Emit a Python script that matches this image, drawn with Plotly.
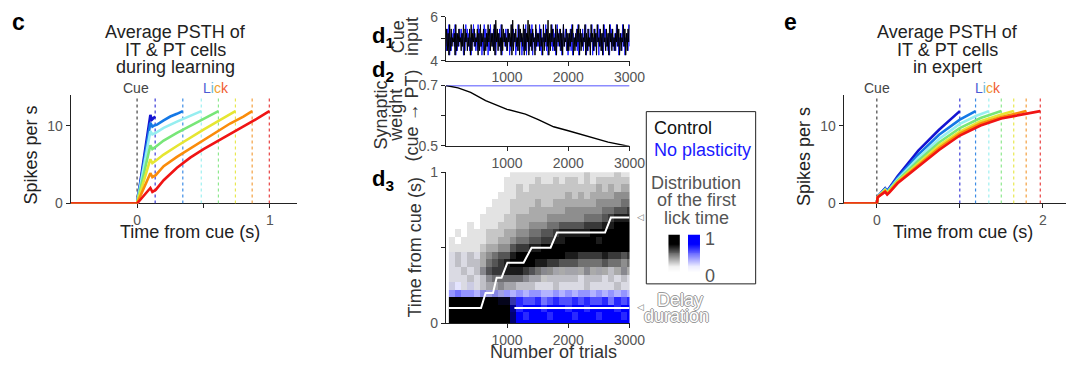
import numpy as np
import plotly.graph_objects as go

W, H = 1082, 371
def fx(p): return p / W
def fy(p): return 1 - p / H

FONT = "Liberation Sans, Arial, Helvetica, sans-serif"
AX = "#222222"
TICK = "#555555"

# ---------------- data ----------------
curve_colors = ["#1414d2", "#1478e6", "#96eef0", "#78e678", "#e6e632", "#fa8c0a", "#f01414"]
lick_colors = ["#3c3cd8", "#3c8ce6", "#9ef0f0", "#8ee88e", "#e8e850", "#f4a040", "#e84040"]

# panel c : during learning
c_lick_times = [0.136, 0.344, 0.483, 0.612, 0.74, 0.866, 0.995]
c_t_1 = [-0.5, 0, 0.1, 0.112, 0.136]
c_r_1 = [0, 0, 11.4, 10.8, 11.2]
c_t_2 = [-0.5, 0, 0.1, 0.115, 0.13, 0.15, 0.2, 0.25, 0.3, 0.344]
c_r_2 = [0, 0, 10.4, 9.9, 10.05, 10.15, 10.7, 11.2, 11.55, 11.9]
c_t_3 = [-0.5, 0, 0.1, 0.115, 0.14, 0.2, 0.3, 0.4, 0.483]
c_r_3 = [0, 0, 9.3, 8.9, 9.1, 9.75, 10.55, 11.25, 11.9]
c_t_4 = [-0.5, 0, 0.1, 0.115, 0.14, 0.2, 0.3, 0.4, 0.5, 0.612]
c_r_4 = [0, 0, 7.5, 7.0, 7.3, 8.1, 9.1, 10.0, 10.9, 11.9]
c_t_5 = [-0.5, 0, 0.1, 0.115, 0.14, 0.2, 0.3, 0.4, 0.5, 0.6, 0.74]
c_r_5 = [0, 0, 5.7, 5.2, 5.5, 6.3, 7.4, 8.5, 9.5, 10.5, 11.9]
c_t_6 = [-0.5, 0, 0.1, 0.115, 0.14, 0.2, 0.3, 0.4, 0.5, 0.6, 0.7, 0.8, 0.866]
c_r_6 = [0, 0, 3.9, 3.4, 3.65, 4.8, 6.0, 7.1, 8.2, 9.3, 10.3, 11.2, 11.9]
c_t_7 = [-0.5, 0, 0.1, 0.115, 0.14, 0.2, 0.3, 0.4, 0.5, 0.6, 0.7, 0.8, 0.9, 0.995]
c_r_7 = [0, 0, 2.0, 1.5, 1.75, 3.0, 4.6, 5.9, 7.0, 7.95, 8.9, 9.9, 10.9, 11.9]

# panel e : expert
e_lick_times = [1.0, 1.19, 1.35, 1.5, 1.65, 1.8, 1.97]
e_t_1 = [-0.4, 0, 0.01, 0.1, 0.125, 0.15, 0.25, 0.5, 0.75, 1.0]
e_r_1 = [0, 0, 0.9, 1.95, 1.6, 2.0, 3.5, 6.8, 9.5, 11.9]
e_t_2 = [-0.4, 0, 0.01, 0.1, 0.125, 0.15, 0.25, 0.5, 0.75, 1.0, 1.19]
e_r_2 = [0, 0, 0.9, 1.9, 1.5, 1.9, 3.3, 6.3, 8.85, 10.8, 11.9]
e_t_3 = [-0.4, 0, 0.01, 0.1, 0.125, 0.15, 0.25, 0.5, 0.75, 1.0, 1.2, 1.35]
e_r_3 = [0, 0, 0.85, 1.8, 1.45, 1.8, 3.1, 5.9, 8.3, 10.25, 11.3, 11.9]
e_t_4 = [-0.4, 0, 0.01, 0.1, 0.125, 0.15, 0.25, 0.5, 0.75, 1.0, 1.25, 1.5]
e_r_4 = [0, 0, 0.85, 1.75, 1.4, 1.7, 2.95, 5.5, 7.85, 9.7, 11.0, 11.9]
e_t_5 = [-0.4, 0, 0.01, 0.1, 0.125, 0.15, 0.25, 0.5, 0.75, 1.0, 1.25, 1.5, 1.65]
e_r_5 = [0, 0, 0.8, 1.7, 1.3, 1.6, 2.8, 5.15, 7.45, 9.25, 10.6, 11.45, 11.9]
e_t_6 = [-0.4, 0, 0.01, 0.1, 0.125, 0.15, 0.25, 0.5, 0.75, 1.0, 1.25, 1.5, 1.8]
e_r_6 = [0, 0, 0.8, 1.6, 1.25, 1.5, 2.7, 4.95, 7.15, 9.0, 10.3, 11.15, 11.9]
e_t_7 = [-0.4, 0, 0.01, 0.1, 0.125, 0.15, 0.25, 0.5, 0.75, 1.0, 1.25, 1.5, 1.75, 1.97]
e_r_7 = [0, 0, 0.8, 1.5, 1.15, 1.4, 2.6, 4.75, 6.9, 8.75, 10.05, 10.95, 11.5, 11.9]

# panel d1 : cue input (digit d -> 4.05 + 0.2*d)
cue_ctrl_digits = ("37261827354618263745" "26381746253718264735" "47162836471526384726"
                   "36281947263518274635" "27463819264735281746" "38172649183627451836"
                   "46273518264739162847" "35281746372618354726" "26374815263748172635"
                   "48162735184627361845" "37261845273618462735" "26483716254837162748")
cue_noplast_digits = ("62738152647381625374" "73615284736251748362" "52847361528473615284"
                      "63728154637281546372" "74615283746152837461" "52738164527381645273"
                      "63827154638271546382" "72614835726148357261" "53728164537281645372"
                      "64815273648152736481" "73526184735261847352" "62837154628371546283")

# panel d2 : synaptic weight
w_trials = [0, 200, 405, 650, 1000, 1300, 1510, 1760, 2000, 2270, 2500, 2650, 3000]
w_ctrl = [0.7, 0.692, 0.677, 0.65, 0.621, 0.605, 0.587, 0.563, 0.55, 0.534, 0.522, 0.512, 0.498]
w_np_trials = [0, 3000]
w_noplast = [0.7, 0.7]

# panel d3 : first-lick-time distributions, rows t = 0, 0.05, ... 1.0 ; cols trials 100..3000
hm_trials = list(range(100, 3001, 100))
hm_times = [round(0.05 * i, 2) for i in range(21)]
ctrl_rows = [
    "999999999950000000000000000000",
    "999999999950000000000000000000",
    "999999999940000000000000000000",
    "999999998830000000000000000000",
    "000001111000000000000000000000",
    "101112334332221112111121111211",
    "111212455555433222222122212121",
    "112124677888765443333343332343",
    "121223567899998877666555565545",
    "121213456689999999988777787767",
    "111112334467788999999999999999",
    "101111223345566778899999899999",
    "010111222334455667888889999999",
    "000101112223344455666677788999",
    "000001111223333344444455567888",
    "000000111122233333344444455667",
    "000000011122223223333333444455",
    "000000001112222222232323333444",
    "000000000112122222222222323233",
    "000000000111112112122121222222",
    "000000000011111111111121111211",
]
noplast_rows = [
    "999999999999999999999999999999",
    "999999999999899989998999899989",
    "999999999998999899989989999899",
    "898889898878778678778787786878",
    "565545454545455445454554545454",
    "221211111111111111111111111111",
    "111111111111111011111111111111",
    "111111111101010101011010101010",
    "111110000000000000000000000000",
    "111110000000000000000000000000",
] + ["000000000000000000000000000000"] * 11

ctrl_line_trials = [50, 575, 650, 770, 830, 910, 1005, 1270, 1400, 1710, 1815, 2600, 2695, 3000]
ctrl_line_delay = [0.1, 0.1, 0.2, 0.2, 0.3, 0.3, 0.4, 0.4, 0.5, 0.5, 0.6, 0.6, 0.7, 0.7]
np_line_trials = [1120, 3000]
np_line_delay = [0.1, 0.1]

# ---------------- figure ----------------
fig = go.Figure()

def add_psth(ts, rs, licks, xa, ya):
    for i in range(7):
        fig.add_trace(go.Scatter(x=[licks[i], licks[i]], y=[0, 13.7], mode="lines",
                                 line=dict(color=lick_colors[i], width=1.2, dash="dot"),
                                 xaxis=xa, yaxis=ya, hoverinfo="skip", cliponaxis=False))
    fig.add_trace(go.Scatter(x=[0, 0], y=[0, 13.7], mode="lines",
                             line=dict(color="#444444", width=1.2, dash="dot"),
                             xaxis=xa, yaxis=ya, hoverinfo="skip", cliponaxis=False))
    for i in range(7):
        fig.add_trace(go.Scatter(x=ts[i], y=rs[i], mode="lines",
                                 line=dict(color=curve_colors[i], width=2.6),
                                 xaxis=xa, yaxis=ya, cliponaxis=False, hoverinfo="skip"))

add_psth([c_t_1, c_t_2, c_t_3, c_t_4, c_t_5, c_t_6, c_t_7],
         [c_r_1, c_r_2, c_r_3, c_r_4, c_r_5, c_r_6, c_r_7], c_lick_times, "x", "y")
add_psth([e_t_1, e_t_2, e_t_3, e_t_4, e_t_5, e_t_6, e_t_7],
         [e_r_1, e_r_2, e_r_3, e_r_4, e_r_5, e_r_6, e_r_7], e_lick_times, "x5", "y5")

# d1
cue_np = [4.05 + 0.2 * int(ch) for ch in cue_noplast_digits]
cue_ct = [4.05 + 0.2 * int(ch) for ch in cue_ctrl_digits]
fig.add_trace(go.Scatter(x=np.linspace(0, 3000, len(cue_np)), y=cue_np, mode="lines",
                         line=dict(color="#1a1aff", width=1), xaxis="x2", yaxis="y2", hoverinfo="skip"))
fig.add_trace(go.Scatter(x=np.linspace(0, 3000, len(cue_ct)), y=cue_ct, mode="lines",
                         line=dict(color="#000000", width=1), xaxis="x2", yaxis="y2", hoverinfo="skip"))
# d2
fig.add_trace(go.Scatter(x=w_np_trials, y=w_noplast, mode="lines", line=dict(color="#1a1aff", width=1.4),
                         xaxis="x3", yaxis="y3", cliponaxis=False, hoverinfo="skip"))
fig.add_trace(go.Scatter(x=w_trials, y=w_ctrl, mode="lines", line=dict(color="#000000", width=1.4),
                         xaxis="x3", yaxis="y3", cliponaxis=False, hoverinfo="skip"))

# d3 heat map (multiplicative blend of gray and blue maps)
img = []
for rc, rb in zip(ctrl_rows, noplast_rows):
    row = []
    for chc, chb in zip(rc, rb):
        c = int(chc) / 9.0
        b = (int(chb) / 9.0) ** 1.5
        v = int(round(255 * (1 - c) * (1 - b)))
        row.append([v, v, int(round(255 * (1 - c)))])
    img.append(row)
fig.add_trace(go.Image(z=img, x0=hm_trials[0], dx=100, y0=hm_times[0], dy=0.05,
                       xaxis="x4", yaxis="y4", hoverinfo="skip"))
fig.add_trace(go.Scatter(x=np_line_trials, y=np_line_delay, mode="lines", line=dict(color="white", width=2),
                         xaxis="x4", yaxis="y4", hoverinfo="skip"))
fig.add_trace(go.Scatter(x=ctrl_line_trials, y=ctrl_line_delay, mode="lines", line=dict(color="white", width=2),
                         xaxis="x4", yaxis="y4", hoverinfo="skip"))

# legend colour bars
levels = [[i / 39.0] for i in range(40)]
fig.add_trace(go.Heatmap(z=levels, x=[0], y=list(range(40)), showscale=False, hoverinfo="skip",
                         colorscale=[[0, "#ffffff"], [0.15, "#f2f2f2"], [0.55, "#555555"], [0.75, "#000000"], [1, "#000000"]],
                         xaxis="x6", yaxis="y6"))
fig.add_trace(go.Heatmap(z=levels, x=[0], y=list(range(40)), showscale=False, hoverinfo="skip",
                         colorscale=[[0, "#ffffff"], [0.15, "#eeeeff"], [0.55, "#5555ff"], [0.75, "#0000ff"], [1, "#0000ff"]],
                         xaxis="x7", yaxis="y7"))

def axis(**kw):
    d = dict(showline=True, linecolor=AX, linewidth=1, ticks="outside", ticklen=4, tickwidth=1,
             tickcolor=AX, showgrid=False, zeroline=False, fixedrange=True,
             tickfont=dict(family=FONT, size=14, color=TICK))
    d.update(kw)
    return d

hidden = dict(visible=False, fixedrange=True)
dx0, dx1 = fx(452.5), fx(639)
fig.update_layout(
    width=W, height=H, autosize=False, margin=dict(l=0, r=0, t=0, b=0),
    paper_bgcolor="white", plot_bgcolor="white", showlegend=False,
    xaxis=axis(domain=[fx(71.7), fx(301)], range=[-0.5, 1.2], tickvals=[0, 0.5, 1], ticktext=["0", "", "1"],
               anchor="y", layer="below traces"),
    yaxis=axis(domain=[fy(204.3), fy(90.7)], range=[0, 14], tickvals=[0, 10], anchor="x"),
    xaxis2=axis(domain=[dx0, dx1], range=[0, 3000], tickvals=[1000, 2000, 3000], anchor="y2"),
    yaxis2=axis(domain=[fy(55), fy(9.3)], range=[4, 6], tickvals=[4, 5, 6], ticktext=["4", "", "6"], anchor="x2"),
    xaxis3=axis(domain=[dx0, dx1], range=[0, 3000], tickvals=[1000, 2000, 3000], anchor="y3"),
    yaxis3=axis(domain=[fy(144), fy(81)], range=[0.5, 0.7], tickvals=[0.5, 0.6, 0.7],
                ticktext=["0.5", "", "0.7"], anchor="x3"),
    xaxis4=axis(domain=[dx0, dx1], range=[0, 3000], tickvals=[1000, 2000, 3000], anchor="y4"),
    yaxis4=axis(domain=[fy(329.3), fy(171.7)], range=[0, 1], tickvals=[0, 0.5, 1], ticktext=["0", "", "1"],
                anchor="x4", scaleanchor=False, autorange=False),
    xaxis5=axis(domain=[fx(856.3), 1.0], range=[-0.4, 2.28], tickvals=[0, 1, 2], ticktext=["0", "", "2"],
                anchor="y5", layer="below traces"),
    yaxis5=axis(domain=[fy(204.3), fy(90.7)], range=[0, 14], tickvals=[0, 10], anchor="x5"),
    xaxis6=dict(hidden, domain=[fx(678.3), fx(690)], range=[-0.5, 0.5], anchor="y6"),
    yaxis6=dict(hidden, domain=[fy(276.7), fy(236.7)], range=[-0.5, 39.5], anchor="x6"),
    xaxis7=dict(hidden, domain=[fx(698.3), fx(710.7)], range=[-0.5, 0.5], anchor="y7"),
    yaxis7=dict(hidden, domain=[fy(276.7), fy(236.7)], range=[-0.5, 39.5], anchor="x7"),
)

anns = []
def ann(text, x, y, size=18, color="#222222", xanchor="center", yanchor="middle", angle=0, font_extra=None):
    f = dict(family=FONT, size=size, color=color)
    if font_extra:
        f.update(font_extra)
    anns.append(dict(text=text, x=fx(x), y=fy(y), xref="paper", yref="paper", showarrow=False,
                     xanchor=xanchor, yanchor=yanchor, textangle=angle, font=f))

lick_html = ('<span style="color:#4b5bd4">L</span><span style="color:#6fb6d8">i</span>'
             '<span style="color:#f0a030">c</span><span style="color:#f05a30">k</span>')

# panel c
ann("<b>c</b>", 19, 15, size=23, color="#000")
for txt, yy in [("Average PSTH of", 25), ("IT &amp; PT cells", 43.5), ("during learning", 62)]:
    ann(txt, 177.7, yy)
ann("Cue", 138.3, 83.5, size=14, color="#444")
ann(lick_html, 218.8, 83.5, size=14)
ann("Time from cue (s)", 192.8, 234)
ann("Spikes per s", 31.7, 154, angle=-90)

# panel e
ann("<b>e</b>", 802, 15, size=23, color="#000")
for txt, yy in [("Average PSTH of", 25), ("IT &amp; PT cells", 43.5), ("in expert", 62)]:
    ann(txt, 962, yy)
ann("Cue", 890.5, 83.5, size=14, color="#444")
ann(lick_html, 1002.8, 83.5, size=14)
ann("Time from cue (s)", 977.5, 234)
ann("Spikes per s", 816.7, 155, angle=-90)

# panel d
ann("<b>d<sub>1</sub></b>", 376, 30, size=22, color="#000", xanchor="left")
ann("<b>d<sub>2</sub></b>", 376, 66, size=22, color="#000", xanchor="left")
ann("<b>d<sub>3</sub></b>", 376, 180, size=22, color="#000", xanchor="left")
ann("Cue", 403.5, 30, angle=-90, color="#333")
ann("input", 417.5, 30, angle=-90, color="#333")
ann("Synaptic", 387, 112, angle=-90, color="#333")
ann("weight", 402.5, 112, angle=-90, color="#333")
ann("(cue \u2192 PT)", 418.5, 112, angle=-90, color="#333")
ann("Time from cue (s)", 421, 250.5, angle=-90, color="#333")
ann("Number of trials", 561.7, 359.5, color="#333")
ann("\u25C1", 650, 218.3, size=9, color="#777")
ann("\u25C1", 650, 312, size=9, color="#777")

# legend box texts
ann("Control", 661.7, 125, color="#111", xanchor="left")
ann("No plasticity", 661.7, 148.3, color="#1a1aff", xanchor="left")
ann("Distribution", 706.7, 182.7, color="#555")
ann("of the first", 706.7, 200.7, color="#555")
ann("lick time", 706.7, 219, color="#555")
ann("1", 714, 241.7, size=18, color="#555", xanchor="left")
ann("0", 714, 280, size=18, color="#555", xanchor="left")
outline = {"shadow": "1px 0 0 #9a9a9a, -1px 0 0 #9a9a9a, 0 1px 0 #9a9a9a, 0 -1px 0 #9a9a9a"}
ann("Delay", 690, 305, color="#ffffff", font_extra=outline)
ann("duration", 686.3, 321.7, color="#ffffff", font_extra=outline)

fig.update_layout(annotations=anns,
                  shapes=[dict(type="rect", xref="paper", yref="paper", x0=fx(656), x1=fx(767),
                               y0=fy(288.3), y1=fy(108.3), line=dict(color="#222", width=1),
                               fillcolor="rgba(0,0,0,0)")])

fig.write_html("out.html", config={"displayModeBar": False},
               post_script="document.body.style.margin='0px';document.body.style.padding='0px';")
